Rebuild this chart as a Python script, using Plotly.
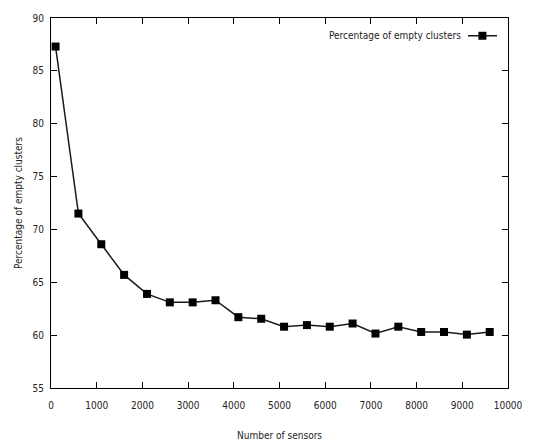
import plotly.graph_objects as go

sensors = [100, 600, 1100, 1600, 2100, 2600, 3100, 3600, 4100, 4600,
           5100, 5600, 6100, 6600, 7100, 7600, 8100, 8600, 9100, 9600]
empty_pct = [87.3, 71.5, 68.6, 65.7, 63.9, 63.1, 63.1, 63.3, 61.7, 61.55,
             60.8, 60.95, 60.8, 61.1, 60.15, 60.8, 60.3, 60.3, 60.05, 60.3]
x_ticks = [0, 1000, 2000, 3000, 4000, 5000, 6000, 7000, 8000, 9000, 10000]
y_ticks = [55, 60, 65, 70, 75, 80, 85, 90]
series_name = "Percentage of empty clusters"

FONT = "DejaVu Sans Condensed, Roboto, sans-serif"
LINE = "#1a1a1a"

fig = go.Figure()
fig.add_trace(go.Scatter(
    x=sensors, y=empty_pct, mode="lines+markers", name=series_name,
    line=dict(color=LINE, width=1.5),
    marker=dict(symbol="square", size=8, color="black"),
    showlegend=False,
))

axis_common = dict(
    showline=True, linecolor="black", linewidth=1.2, mirror="ticks",
    ticks="inside", ticklen=6, tickcolor="black", tickwidth=1,
    showgrid=False, zeroline=False,
    tickfont=dict(family=FONT, size=10, color="#222"),
)

fig.update_xaxes(range=[0, 10000], tickvals=x_ticks,
                 ticktext=[str(v) for v in x_ticks],
                 ticklabelstandoff=8, **axis_common)
fig.update_yaxes(range=[55, 90], tickvals=y_ticks,
                 ticktext=[str(v) for v in y_ticks],
                 ticklabelstandoff=4, **axis_common)

fig.add_annotation(text="Number of sensors", xref="paper", yref="paper",
                   x=0.5, y=0, yshift=-47, xanchor="center", yanchor="middle",
                   showarrow=False,
                   font=dict(family=FONT, size=10, color="#222"))
fig.add_annotation(text="Percentage of empty clusters", xref="paper", yref="paper",
                   x=0, y=0.5, xshift=-33, xanchor="center", yanchor="middle",
                   textangle=-90, showarrow=False,
                   font=dict(family=FONT, size=10, color="#222"))

# legend (key on the right of the label)
fig.add_annotation(text=series_name, xref="paper", yref="paper",
                   x=0.9015, y=0.952, xanchor="right", yanchor="middle",
                   showarrow=False,
                   font=dict(family=FONT, size=10, color="#222"))
fig.add_shape(type="line", xref="paper", yref="paper",
              x0=0.9125, x1=0.976, y0=0.952, y1=0.952,
              line=dict(color=LINE, width=1.5))
fig.add_shape(type="rect", xref="paper", yref="paper",
              xsizemode="pixel", ysizemode="pixel",
              xanchor=0.944, yanchor=0.952,
              x0=-4, x1=4, y0=-4, y1=4,
              fillcolor="black", line=dict(width=0))

fig.update_layout(
    width=535, height=443,
    margin=dict(l=51, r=27, t=13, b=55),
    paper_bgcolor="white", plot_bgcolor="white",
    font=dict(family=FONT, size=10, color="#222"),
)

fig.write_html("out.html", config={"displayModeBar": False},
               post_script="document.body.style.margin='0';document.body.style.overflow='hidden';")
